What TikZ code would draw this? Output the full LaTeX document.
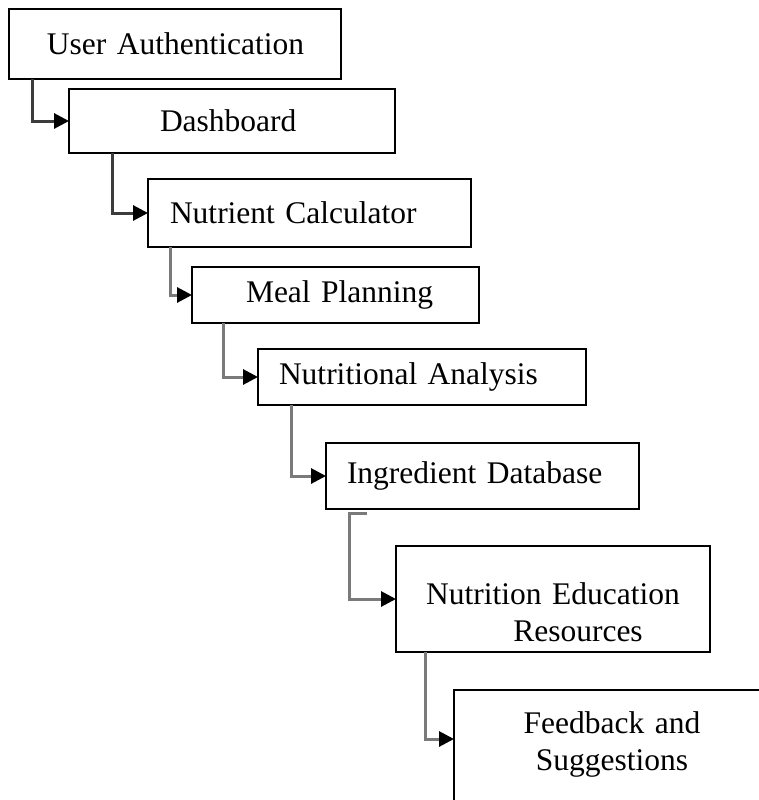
\documentclass[tikz,border=0pt]{standalone}
\usepackage{fontspec}
\setmainfont{Liberation Serif}
\usetikzlibrary{positioning,arrows.meta,calc}
\definecolor{linkdark}{HTML}{3C3C3C}
\definecolor{linkgray}{HTML}{7A7A7A}

\begin{document}
\begin{tikzpicture}[x=1pt, y=-1pt, line width=2pt,
   box/.style={draw, rectangle, anchor=north west, inner xsep=0pt, outer sep=0pt, align=left, font=\fontsize{31.5}{37}\selectfont},
   link/.style={draw=linkgray, line width=3pt, -{Triangle[length=15pt,width=15pt,color=black]}}]
\clip (0,0) rectangle (759,800);
\node[box, text width=332pt, minimum height=70pt] (auth) at (9,9) {\hspace*{38pt}User Authentication};
\node[box, text width=326pt, minimum height=64pt] (dash) at (69,89) {\hspace*{91pt}Dashboard};
\node[box, text width=323pt, minimum height=68pt] (calc) at (148,179) {\hspace*{22pt}Nutrient Calculator};
\node[box, text width=287pt, minimum height=56pt] (meal) at (192,267) {\hspace*{54pt}Meal Planning};
\node[box, text width=328pt, minimum height=56pt] (anal) at (258,349) {\hspace*{21pt}Nutritional Analysis};
\node[box, text width=313pt, minimum height=66pt] (ingr) at (326,443) {\hspace*{21pt}Ingredient Database};
\node[box, text width=314pt, minimum height=106pt, align=center, text depth=10pt] (edu) at (396,546) {Nutrition Education\\\hspace*{50pt}Resources};
\node[box, text width=316pt, inner ysep=21.8pt, align=center, text depth=90pt] (feed) at (454,690) {Feedback and\\Suggestions};
% steps down the list
\foreach \a/\b/\d/\c in {auth/dash/23/linkdark, dash/calc/43/linkdark, calc/meal/22/linkgray, meal/anal/31/linkgray, anal/ingr/33/linkgray}
   \draw[link, draw=\c] ($(\a.south west)+(\d,0)$) |- (\b.west);
\draw[link] ($(ingr.south west)+(41,4)$) -- ++(-18,0) |- (edu.west);
\draw[link] ($(edu.south west)+(29,0)$) |- ($(feed.north west)+(0,49)$);
\end{tikzpicture}
\end{document}
